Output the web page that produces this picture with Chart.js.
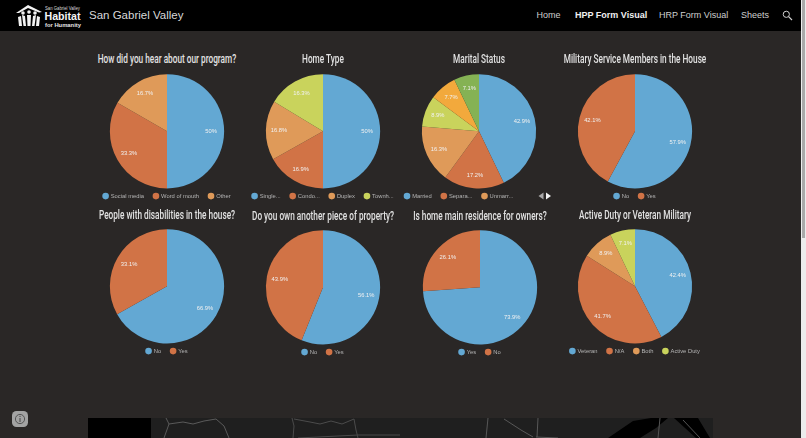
<!DOCTYPE html>
<html>
<head>
<meta charset="utf-8">
<title>HPP Form Visual</title>
<script src="https://cdn.jsdelivr.net/npm/chart.js@4"></script>
<style>
  html, body { margin: 0; padding: 0; width: 806px; height: 438px; overflow: hidden; background: #2a2726; font-family: "Liberation Sans", Arial, sans-serif; }
  #topbar { position: absolute; left: 0; top: 0; width: 801px; height: 31px; background: #000; }
  .nav { position: absolute; top: 9.5px; font-size: 9px; line-height: 11px; color: #cfcfcf; white-space: nowrap; }
  #site { position: absolute; left: 89px; top: 8px; font-size: 11.5px; line-height: 14px; color: #d8d8d8; white-space: nowrap; }
  .title { position: absolute; width: 240px; margin-left: -120px; text-align: center; font-family: "Roboto", "Liberation Sans", sans-serif; font-weight: 500; font-size: 12.5px; line-height: 14px; color: #e2e2e2; transform: scaleX(.66); white-space: nowrap; }
  .pie { position: absolute; }
  #track { position: absolute; left: 801px; top: 0; width: 5px; height: 438px; background: #ececec; }
  #thumb { position: absolute; left: 802px; top: 0; width: 3px; height: 238px; background: #a9a9a9; }
  svg { position: absolute; }
</style>
</head>
<body>
<div id="topbar"></div>

<!-- logo -->
<svg style="left:14px;top:3px" width="70" height="25" viewBox="0 0 70 25">
  <path d="M2 10 L14 2 L28 9 L25 9.5 L14 5 L5 10 Z" fill="#f2f2f2"/>
  <circle cx="9" cy="10" r="1.8" fill="#f2f2f2"/><circle cx="15" cy="9" r="1.8" fill="#f2f2f2"/><circle cx="21" cy="10" r="1.8" fill="#f2f2f2"/>
  <path d="M4 14 L7 13 L8 23 L5 23 Z M8 12 L11 13 L12 23 L9.5 23 Z M13 12 L17 12 L16.5 23 L13.5 23 Z M19 13 L22 12 L20.5 23 L18 23 Z M23 13 L26 14 L25 23 L22 23 Z" fill="#f2f2f2"/>
  <text x="31" y="6.5" font-family="Liberation Sans" font-size="5" fill="#dddddd" textLength="35" lengthAdjust="spacingAndGlyphs">San Gabriel Valley</text>
  <text x="30.5" y="16.5" font-family="Liberation Sans" font-weight="bold" font-size="10.5" fill="#f5f5f5" textLength="36" lengthAdjust="spacingAndGlyphs">Habitat</text>
  <text x="31" y="23.5" font-family="Liberation Sans" font-weight="bold" font-size="5.5" fill="#e5e5e5" textLength="36" lengthAdjust="spacingAndGlyphs">for Humanity</text>
</svg>
<div id="site">San Gabriel Valley</div>
<div class="nav" style="left:536.5px">Home</div>
<div class="nav" style="left:575px;font-weight:bold;color:#f0f0f0">HPP Form Visual</div>
<div class="nav" style="left:659px">HRP Form Visual</div>
<div class="nav" style="left:741px">Sheets</div>
<svg style="left:782px;top:10px" width="11" height="11" viewBox="0 0 11 11">
  <circle cx="4.3" cy="4.3" r="3.1" fill="none" stroke="#cfcfcf" stroke-width="1"/>
  <path d="M6.6 6.6 L10 10" stroke="#cfcfcf" stroke-width="1.2"/>
</svg>

<!-- map strip at the foot of the page -->
<svg style="left:88px;top:418px" width="625" height="20" viewBox="0 0 625 20">
  <rect width="625" height="20" fill="#1f1f1f"/>
  <rect width="63" height="20" fill="#000"/>
  <path d="M78 0 L81 6 L76 20 M81 6 L95 4 L105 6 L116 3 L128 1 M128 1 L136 8 L141 20" fill="none" stroke="#5a5a5a" stroke-width="1"/>
  <path d="M204 0 L206 8 L205 20 M206 1 L222 4 L232 6 L243 3 L254 6 L266 1 L268 12 L270 20 M210 20 L270 17 L312 17" fill="none" stroke="#4b4b4b" stroke-width="1"/>
  <path d="M400 0 L398 20 M416 1 L433 12 L445 19 M450 0 L449 19 M448 19 L470 20" fill="none" stroke="#585858" stroke-width="1"/>
  <path d="M520 20 L545 3 L563 0 L580 0 L568 10 L552 20 Z M586 0 L610 0 L622 20 L608 20 Z" fill="#000"/>
  <path d="M572 0 L570 20 M595 2 L612 20" fill="none" stroke="#555" stroke-width="1"/>
</svg>

<!-- info badge -->
<svg style="left:12px;top:411px" width="16" height="16" viewBox="0 0 16 16">
  <rect x="0" y="0" width="16" height="16" rx="4.5" fill="#a3a3a3"/>
  <circle cx="8" cy="8" r="4.6" fill="none" stroke="#555" stroke-width="1"/>
  <path d="M8 7 V11" stroke="#555" stroke-width="1.2"/>
  <circle cx="8" cy="5.4" r=".7" fill="#555"/>
</svg>

<!-- legend pager for the marital status chart -->
<svg style="left:538px;top:192px" width="14" height="8" viewBox="0 0 14 8">
  <path d="M5.5 .5 V7.5 L.5 4 Z" fill="#a8a8a8"/>
  <path d="M8 .5 V7.5 L13 4 Z" fill="#f2f2f2"/>
</svg>

<div id="track"></div>
<div id="thumb"></div>

<script>
const BLUE = "#63a8d3", ORANGE = "#d17346", TAN = "#df9a59", LIME = "#c9d35c", AMBER = "#f2a93c", GREEN = "#85b254";

// categories and values, chart by chart
const heardLabels = ["Social media", "Word of mouth", "Other"];
const heardValues = [50, 33.3, 16.7];

const homeLabels = ["Single...", "Condo...", "Duplex", "Townh..."];
const homeValues = [50, 16.9, 16.8, 16.3];

const maritalLabels = ["Married", "Separa...", "Unmarr...", "", "", ""];
const maritalValues = [42.9, 17.2, 16.3, 8.9, 7.7, 7.1];

const militaryLabels = ["No", "Yes"];
const militaryValues = [57.9, 42.1];

const disabilityLabels = ["No", "Yes"];
const disabilityValues = [66.9, 33.1];

const propertyLabels = ["No", "Yes"];
const propertyValues = [56.1, 43.9];

const residenceLabels = ["Yes", "No"];
const residenceValues = [73.9, 26.1];

const veteranLabels = ["Veteran", "N/A", "Both", "Active Duty"];
const veteranValues = [42.4, 41.7, 8.9, 7.1];

const sliceColors = [BLUE, ORANGE, TAN, LIME, AMBER, GREEN];

// percentage printed inside each slice
const sliceLabels = {
  id: "sliceLabels",
  afterDatasetsDraw(chart) {
    const ctx = chart.ctx;
    const values = chart.data.datasets[0].data;
    ctx.save();
    ctx.font = "5.8px 'Liberation Sans', Arial";
    ctx.fillStyle = "#f1f1f1";
    ctx.textAlign = "center";
    ctx.textBaseline = "middle";
    chart.getDatasetMeta(0).data.forEach(function (arc, i) {
      const mid = (arc.startAngle + arc.endAngle) / 2;
      const r = arc.outerRadius * 0.77;
      ctx.fillText(values[i] + "%", arc.x + Math.cos(mid) * r, arc.y + Math.sin(mid) * r);
    });
    ctx.restore();
  },
};

// pulls the legend up closer to the pie, and left for the paged one
const legendNudge = {
  id: "legendNudge",
  afterLayout(chart) {
    chart.legend.top -= 5;
    if (chart.options.plugins.legend.align === "start") chart.legend.left -= 6;
  },
};

function makePie(title, labels, values, cx, cy, titleY, legendAlign) {
  const heading = document.createElement("div");
  heading.className = "title";
  heading.textContent = title;
  heading.style.left = cx + "px";
  heading.style.top = titleY + "px";
  document.body.appendChild(heading);

  // the wider canvas keeps four legend items on one row
  const width = legendAlign ? 156 : 190;
  const canvas = document.createElement("canvas");
  canvas.className = "pie";
  canvas.width = width;
  canvas.height = 175;
  canvas.style.left = cx - width / 2 + "px";
  canvas.style.top = cy - 92 + "px";
  document.body.appendChild(canvas);

  return new Chart(canvas, {
    type: "pie",
    data: {
      labels: labels,
      datasets: [{ data: values, backgroundColor: sliceColors, borderWidth: 0 }],
    },
    options: {
      responsive: false,
      animation: false,
      layout: { padding: { top: 35.2, bottom: 0 } },
      plugins: {
        title: { display: false },
        tooltip: { enabled: false },
        legend: {
          position: "bottom",
          align: legendAlign || "center",
          labels: {
            usePointStyle: true,
            pointStyle: "circle",
            boxWidth: 4.5,
            boxHeight: 4.7,
            padding: 9.75,
            color: "#b5b5b5",
            font: { size: 5.8, family: "'Liberation Sans', Arial" },
            filter: (item) => item.text !== "",
          },
        },
      },
    },
    plugins: [sliceLabels, legendNudge],
  });
}

makePie("How did you hear about our program?", heardLabels, heardValues, 166.7, 130.5, 52);
makePie("Home Type", homeLabels, homeValues, 322.7, 130.5, 52);
makePie("Marital Status", maritalLabels, maritalValues, 479, 130.5, 52, "start");
makePie("Military Service Members in the House", militaryLabels, militaryValues, 635.3, 130.5, 52);
makePie("People with disabilities in the house?", disabilityLabels, disabilityValues, 167.3, 286.3, 208);
makePie("Do you own another piece of property?", propertyLabels, propertyValues, 323.3, 286.7, 208.5);
makePie("Is home main residence for owners?", residenceLabels, residenceValues, 479.7, 286.7, 208.5);
makePie("Active Duty or Veteran Military", veteranLabels, veteranValues, 635.3, 286.3, 208);
</script>
</body>
</html>
